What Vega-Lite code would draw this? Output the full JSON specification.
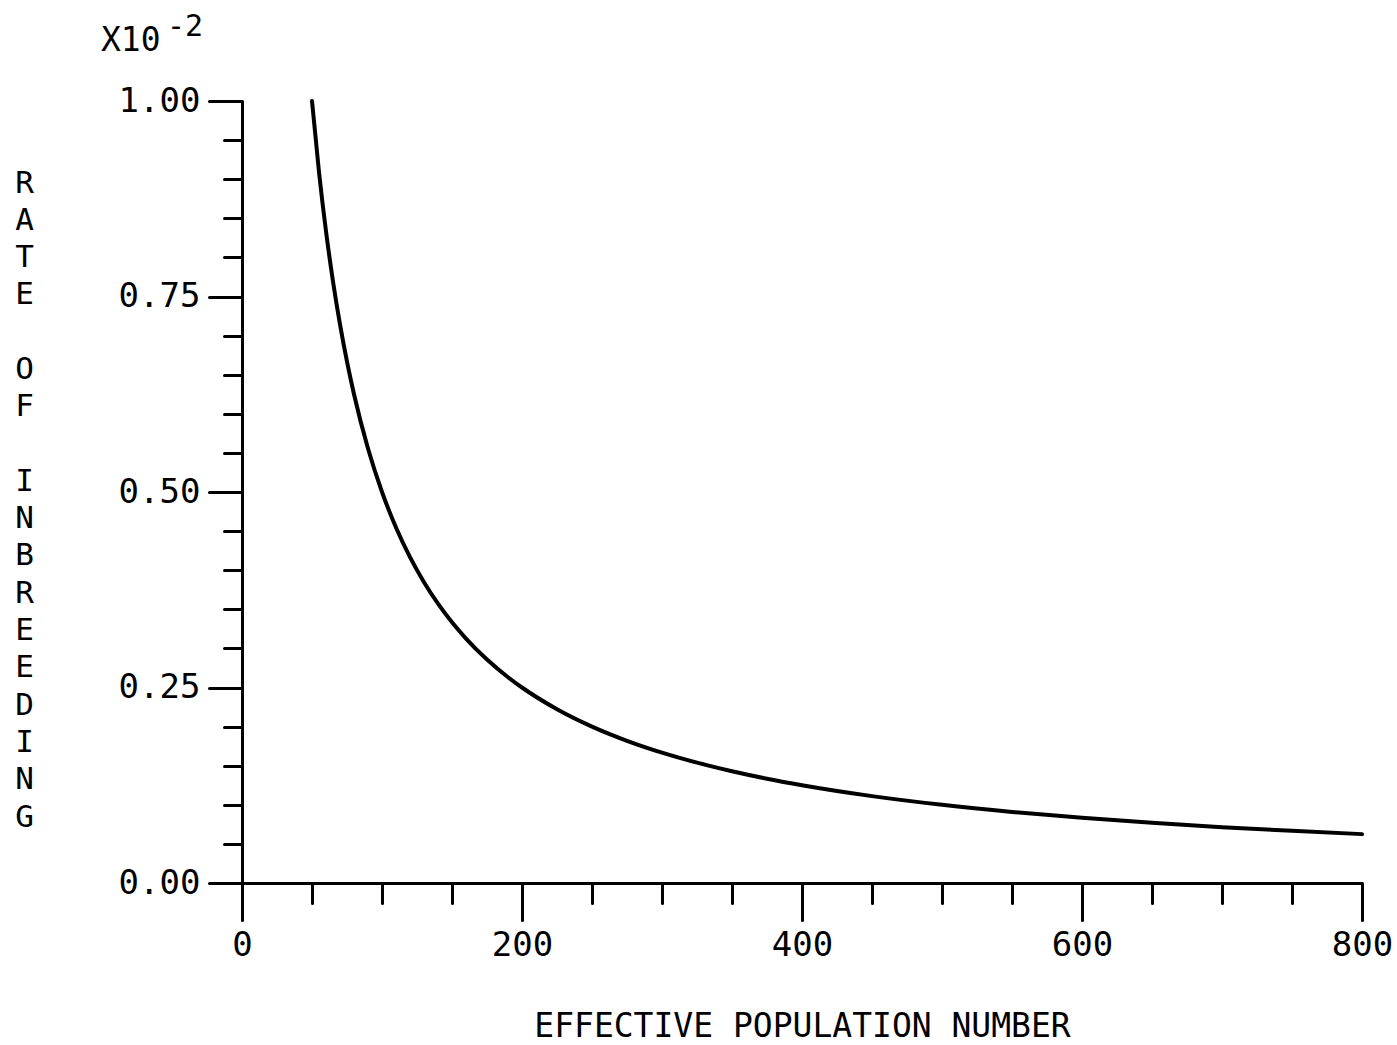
{
  "$schema": "https://vega.github.io/schema/vega-lite/v6.json",
  "width": 1120,
  "height": 782,
  "autosize": {"type": "none"},
  "padding": {"left": 242, "top": 101, "right": 35, "bottom": 162},
  "background": "white",
  "config": {"view": {"stroke": null}, "font": "DejaVu Sans Mono"},
  "title": {
    "text": "\u2800\u2800\u2800-2",
    "subtitle": "X10",
    "anchor": "start",
    "frame": "group",
    "dx": -141,
    "offset": 26,
    "fontSize": 30,
    "fontWeight": "normal",
    "font": "DejaVu Sans Mono",
    "color": "black",
    "subtitleFont": "DejaVu Sans Mono",
    "subtitleFontSize": 33,
    "subtitleColor": "black",
    "subtitlePadding": -17
  },
  "data": {
    "values": [
      {"N": 50, "rate": 1.0},
      {"N": 55, "rate": 0.90909},
      {"N": 60, "rate": 0.83333},
      {"N": 65, "rate": 0.76923},
      {"N": 70, "rate": 0.71429},
      {"N": 75, "rate": 0.66667},
      {"N": 80, "rate": 0.625},
      {"N": 90, "rate": 0.55556},
      {"N": 100, "rate": 0.5},
      {"N": 110, "rate": 0.45455},
      {"N": 120, "rate": 0.41667},
      {"N": 130, "rate": 0.38462},
      {"N": 140, "rate": 0.35714},
      {"N": 150, "rate": 0.33333},
      {"N": 160, "rate": 0.3125},
      {"N": 175, "rate": 0.28571},
      {"N": 190, "rate": 0.26316},
      {"N": 200, "rate": 0.25},
      {"N": 225, "rate": 0.22222},
      {"N": 250, "rate": 0.2},
      {"N": 275, "rate": 0.18182},
      {"N": 300, "rate": 0.16667},
      {"N": 325, "rate": 0.15385},
      {"N": 350, "rate": 0.14286},
      {"N": 375, "rate": 0.13333},
      {"N": 400, "rate": 0.125},
      {"N": 450, "rate": 0.11111},
      {"N": 500, "rate": 0.1},
      {"N": 550, "rate": 0.09091},
      {"N": 600, "rate": 0.08333},
      {"N": 650, "rate": 0.07692},
      {"N": 700, "rate": 0.07143},
      {"N": 750, "rate": 0.06667},
      {"N": 800, "rate": 0.0625}
    ]
  },
  "mark": {"type": "line", "color": "black", "strokeWidth": 4, "strokeCap": "round", "interpolate": "monotone"},
  "encoding": {
    "x": {
      "field": "N",
      "type": "quantitative",
      "scale": {"domain": [0, 800], "nice": false, "zero": false},
      "axis": {
        "values": [0, 50, 100, 150, 200, 250, 300, 350, 400, 450, 500, 550, 600, 650, 700, 750, 800],
        "tickSize": {"condition": {"test": "datum.value % 200 === 0", "value": 37}, "value": 20},
        "labelExpr": "datum.value % 200 === 0 ? datum.label : ''",
        "format": "d",
        "grid": false,
        "domainColor": "black",
        "domainWidth": 3,
        "tickColor": "black",
        "tickWidth": 3,
        "tickCap": "round",
        "labelColor": "black",
        "labelFontSize": 34,
        "labelFont": "DejaVu Sans Mono",
        "labelPadding": 8,
        "labelFlush": false,
        "labelOverlap": false,
        "labelBound": false,
        "title": "EFFECTIVE POPULATION NUMBER",
        "titleFont": "DejaVu Sans Mono",
        "titleFontSize": 33,
        "titleFontWeight": "normal",
        "titleColor": "black",
        "titlePadding": 48
      }
    },
    "y": {
      "field": "rate",
      "type": "quantitative",
      "scale": {"domain": [0, 1], "nice": false},
      "axis": {
        "values": [0, 0.05, 0.1, 0.15, 0.2, 0.25, 0.3, 0.35, 0.4, 0.45, 0.5, 0.55, 0.6, 0.65, 0.7, 0.75, 0.8, 0.85, 0.9, 0.95, 1.0],
        "tickSize": {"condition": {"test": "round(datum.value * 100) % 25 === 0", "value": 33}, "value": 18},
        "labelExpr": "round(datum.value * 100) % 25 === 0 ? format(datum.value, '.2f') : ''",
        "grid": false,
        "domainColor": "black",
        "domainWidth": 3,
        "tickColor": "black",
        "tickWidth": 3,
        "tickCap": "round",
        "labelColor": "black",
        "labelFontSize": 34,
        "labelFont": "DejaVu Sans Mono",
        "labelPadding": 9,
        "labelFlush": false,
        "labelOverlap": false,
        "labelBound": false,
        "title": ["R", "A", "T", "E", "\u2800", "O", "F", "\u2800", "I", "N", "B", "R", "E", "E", "D", "I", "N", "G"],
        "titleAngle": 0,
        "titleAlign": "center",
        "titleBaseline": "alphabetic",
        "titleX": -218,
        "titleY": 91,
        "titleFont": "DejaVu Sans Mono",
        "titleFontSize": 31,
        "titleFontWeight": "normal",
        "titleColor": "black",
        "titleLineHeight": 37.3
      }
    }
  }
}
